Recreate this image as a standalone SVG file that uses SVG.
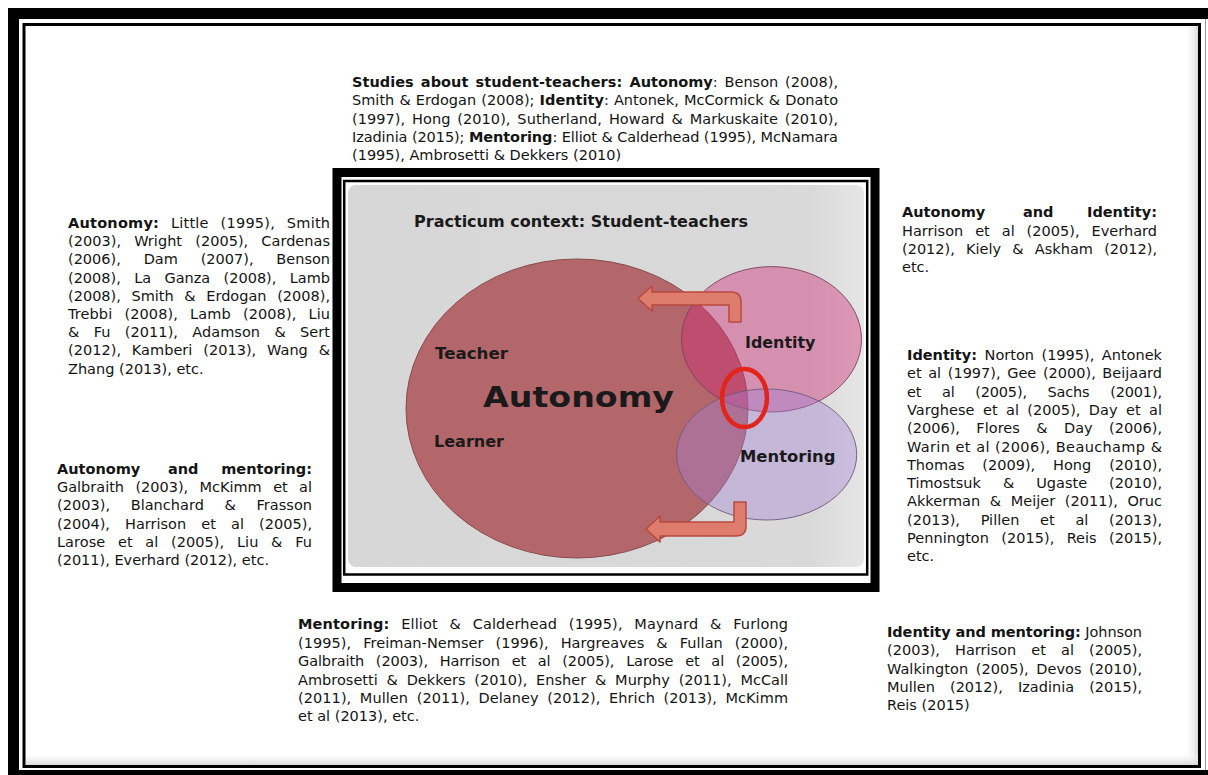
<svg xmlns="http://www.w3.org/2000/svg" width="1208" height="775" viewBox="0 0 1208 775">
<defs>
<style>
.t{font-family:"DejaVu Sans",Verdana,sans-serif;font-size:14.5px;fill:#141414}
.b{font-weight:bold}
.lab{font-family:"DejaVu Sans",Verdana,sans-serif;font-weight:bold;fill:#1a1a1a}
.arrow{fill:#de7d6d;stroke:#b9483f;stroke-width:1.5;stroke-linejoin:round}
</style>
<linearGradient id="shR" x1="0" y1="0" x2="1" y2="0">
<stop offset="0" stop-color="#ffffff" stop-opacity="0"/>
<stop offset="1" stop-color="#d9d9d9"/>
</linearGradient>
<linearGradient id="shB" x1="0" y1="0" x2="0" y2="1">
<stop offset="0" stop-color="#ffffff" stop-opacity="0"/>
<stop offset="1" stop-color="#d9d9d9"/>
</linearGradient>
<linearGradient id="panelG" x1="0" y1="0" x2="1" y2="0">
<stop offset="0" stop-color="#d7d7d7"/>
<stop offset="0.9" stop-color="#d9d9d9"/>
<stop offset="1" stop-color="#e6e6e6"/>
</linearGradient>
</defs>

<g id="frame">
<rect x="0" y="0" width="1208" height="775" fill="#ffffff"/>
<rect x="1184" y="26" width="14" height="739" fill="url(#shR)"/>
<rect x="26" y="752" width="1172" height="13" fill="url(#shB)"/>
<rect x="8" y="8" width="1200" height="11" fill="#000"/>
<rect x="8" y="8" width="11" height="767" fill="#000"/>
<rect x="8" y="770" width="1200" height="5" fill="#000"/>
<line x1="1205.5" y1="19" x2="1205.5" y2="770" stroke="#9a9a9a" stroke-width="1"/>
<rect x="24" y="24.5" width="1175.5" height="742" fill="none" stroke="#000" stroke-width="3"/>
</g>

<g id="central-box">
<rect x="337" y="172.5" width="538" height="415" fill="#ffffff" stroke="#000" stroke-width="9"/>
<rect x="344.2" y="181" width="523" height="393.5" fill="#ffffff" stroke="#000" stroke-width="2.5"/>
<rect x="348" y="185" width="516" height="382" rx="8" fill="url(#panelG)"/>
<text class="lab" x="414" y="226.7" font-size="15.5" textLength="334" lengthAdjust="spacingAndGlyphs" fill="#262626">Practicum context: Student-teachers</text>
</g>

<g id="autonomy">
<ellipse cx="577" cy="408.5" rx="171" ry="149.5" fill="#b3676b" stroke="#874a4d" stroke-width="1"/>
</g>
<g id="identity">
<ellipse cx="771.5" cy="339.3" rx="90" ry="72.7" fill="#d22978" fill-opacity="0.41" stroke="#7d3f5e" stroke-width="0.9"/>
</g>
<g id="mentoring">
<ellipse cx="766.7" cy="454.5" rx="90" ry="65.5" fill="#a280d6" fill-opacity="0.39" stroke="#6f5a7c" stroke-width="0.9"/>
</g>

<g id="connectors">
<path class="arrow" d="M741 322 L741 302 Q741 292 731 292 L652 292 L652 286 L638 298.5 L652 311 L652 305 L729 305 L729 322 Z"/>
<path class="arrow" d="M734 502 L746 502 L746 526 Q746 536 736 536 L660 536 L660 542 L646 529 L660 516 L660 522 L734 522 Z"/>
</g>

<g id="labels">
<text class="lab" x="435" y="359.3" font-size="15" textLength="73" lengthAdjust="spacingAndGlyphs">Teacher</text>
<text class="lab" x="434" y="446.7" font-size="15" textLength="70" lengthAdjust="spacingAndGlyphs">Learner</text>
<text class="lab" x="483" y="406.7" font-size="29" textLength="191" lengthAdjust="spacingAndGlyphs" fill="#111">Autonomy</text>
<text class="lab" x="745" y="348" font-size="15" textLength="70.5" lengthAdjust="spacingAndGlyphs">Identity</text>
<text class="lab" x="740" y="461.7" font-size="15" textLength="95.5" lengthAdjust="spacingAndGlyphs">Mentoring</text>
</g>

<g id="highlight">
<ellipse cx="744.5" cy="398" rx="22.5" ry="29" fill="none" stroke="#e3241b" stroke-width="4.5"/>
</g>

<g id="top-studies">
<text class="t" x="352" y="87" word-spacing="2.1" textLength="486" lengthAdjust="spacing"><tspan class="b">Studies about student-teachers: Autonomy</tspan>: Benson (2008),</text>
<text class="t" x="352" y="105.3" word-spacing="0.5" textLength="486" lengthAdjust="spacing">Smith &amp; Erdogan (2008); <tspan class="b">Identity</tspan>: Antonek, McCormick &amp; Donato</text>
<text class="t" x="352" y="123.6" word-spacing="2.2" textLength="486" lengthAdjust="spacing">(1997), Hong (2010), Sutherland, Howard &amp; Markuskaite (2010),</text>
<text class="t" x="352" y="141.9" textLength="486" lengthAdjust="spacing">Izadinia (2015); <tspan class="b">Mentoring</tspan>: Elliot &amp; Calderhead (1995), McNamara</text>
<text class="t" x="352" y="160.2">(1995), Ambrosetti &amp; Dekkers (2010)</text>
</g>

<g id="left-autonomy">
<text class="t" x="68" y="228" word-spacing="7" textLength="262" lengthAdjust="spacing"><tspan class="b">Autonomy:</tspan> Little (1995), Smith</text>
<text class="t" x="68" y="246.2" word-spacing="8.5" textLength="262" lengthAdjust="spacing">(2003), Wright (2005), Cardenas</text>
<text class="t" x="68" y="264.4" word-spacing="18.3" textLength="262" lengthAdjust="spacing">(2006), Dam (2007), Benson</text>
<text class="t" x="68" y="282.6" word-spacing="8.8" textLength="262" lengthAdjust="spacing">(2008), La Ganza (2008), Lamb</text>
<text class="t" x="68" y="300.8" word-spacing="6" textLength="262" lengthAdjust="spacing">(2008), Smith &amp; Erdogan (2008),</text>
<text class="t" x="68" y="319" word-spacing="7.5" textLength="262" lengthAdjust="spacing">Trebbi (2008), Lamb (2008), Liu</text>
<text class="t" x="68" y="337.2" word-spacing="9.7" textLength="262" lengthAdjust="spacing">&amp; Fu (2011), Adamson &amp; Sert</text>
<text class="t" x="68" y="355.4" word-spacing="6.2" textLength="262" lengthAdjust="spacing">(2012), Kamberi (2013), Wang &amp;</text>
<text class="t" x="68" y="373.6">Zhang (2013), etc.</text>
</g>

<g id="left-autonomy-mentoring">
<text class="t b" x="57" y="474">Autonomy</text>
<text class="t b" x="168" y="474">and</text>
<text class="t b" x="312" y="474" text-anchor="end">mentoring:</text>
<text class="t" x="57" y="492.2" word-spacing="6.8" textLength="255" lengthAdjust="spacing">Galbraith (2003), McKimm et al</text>
<text class="t" x="57" y="510.4" word-spacing="16" textLength="255" lengthAdjust="spacing">(2003), Blanchard &amp; Frasson</text>
<text class="t" x="57" y="528.6" word-spacing="10.5" textLength="255" lengthAdjust="spacing">(2004), Harrison et al (2005),</text>
<text class="t" x="57" y="546.8" word-spacing="8.1" textLength="255" lengthAdjust="spacing">Larose et al (2005), Liu &amp; Fu</text>
<text class="t" x="57" y="565">(2011), Everhard (2012), etc.</text>
</g>

<g id="right-autonomy-identity">
<text class="t b" x="902" y="217.3">Autonomy</text>
<text class="t b" x="1023" y="217.3">and</text>
<text class="t b" x="1157" y="217.3" text-anchor="end">Identity:</text>
<text class="t" x="902" y="235.5" word-spacing="7.3" textLength="255" lengthAdjust="spacing">Harrison et al (2005), Everhard</text>
<text class="t" x="902" y="253.7" word-spacing="6.6" textLength="255" lengthAdjust="spacing">(2012), Kiely &amp; Askham (2012),</text>
<text class="t" x="902" y="271.9">etc.</text>
</g>

<g id="right-identity">
<text class="t" x="907" y="360" word-spacing="2.9" textLength="255" lengthAdjust="spacing"><tspan class="b">Identity:</tspan> Norton (1995), Antonek</text>
<text class="t" x="907" y="378.3" word-spacing="2" textLength="255" lengthAdjust="spacing">et al (1997), Gee (2000), Beijaard</text>
<text class="t" x="907" y="396.6" word-spacing="16.2" textLength="255" lengthAdjust="spacing">et al (2005), Sachs (2001),</text>
<text class="t" x="907" y="414.9" word-spacing="3.7" textLength="255" lengthAdjust="spacing">Varghese et al (2005), Day et al</text>
<text class="t" x="907" y="433.2" word-spacing="11.8" textLength="255" lengthAdjust="spacing">(2006), Flores &amp; Day (2006),</text>
<text class="t" x="907" y="451.5" word-spacing="0.3" textLength="255" lengthAdjust="spacing">Warin et al (2006), Beauchamp &amp;</text>
<text class="t" x="907" y="469.8" word-spacing="13.3" textLength="255" lengthAdjust="spacing">Thomas (2009), Hong (2010),</text>
<text class="t" x="907" y="488.1" word-spacing="17.3" textLength="255" lengthAdjust="spacing">Timostsuk &amp; Ugaste (2010),</text>
<text class="t" x="907" y="506.4" word-spacing="5" textLength="255" lengthAdjust="spacing">Akkerman &amp; Meijer (2011), Oruc</text>
<text class="t" x="907" y="524.7" word-spacing="16.1" textLength="255" lengthAdjust="spacing">(2013), Pillen et al (2013),</text>
<text class="t" x="907" y="543" word-spacing="7.7" textLength="255" lengthAdjust="spacing">Pennington (2015), Reis (2015),</text>
<text class="t" x="907" y="561.3">etc.</text>
</g>

<g id="bottom-mentoring">
<text class="t" x="298" y="629.3" word-spacing="7" textLength="490" lengthAdjust="spacing"><tspan class="b">Mentoring:</tspan> Elliot &amp; Calderhead (1995), Maynard &amp; Furlong</text>
<text class="t" x="298" y="647.7" word-spacing="7.3" textLength="490" lengthAdjust="spacing">(1995), Freiman-Nemser (1996), Hargreaves &amp; Fullan (2000),</text>
<text class="t" x="298" y="666.1" word-spacing="7.3" textLength="490" lengthAdjust="spacing">Galbraith (2003), Harrison et al (2005), Larose et al (2005),</text>
<text class="t" x="298" y="684.5" word-spacing="4.2" textLength="490" lengthAdjust="spacing">Ambrosetti &amp; Dekkers (2010), Ensher &amp; Murphy (2011), McCall</text>
<text class="t" x="298" y="702.9" word-spacing="3.9" textLength="490" lengthAdjust="spacing">(2011), Mullen (2011), Delaney (2012), Ehrich (2013), McKimm</text>
<text class="t" x="298" y="721.3">et al (2013), etc.</text>
</g>

<g id="bottom-identity-mentoring">
<text class="t" x="887" y="637" textLength="255" lengthAdjust="spacing"><tspan class="b">Identity and mentoring:</tspan> Johnson</text>
<text class="t" x="887" y="655.3" word-spacing="10.5" textLength="255" lengthAdjust="spacing">(2003), Harrison et al (2005),</text>
<text class="t" x="887" y="673.6" word-spacing="2.9" textLength="255" lengthAdjust="spacing">Walkington (2005), Devos (2010),</text>
<text class="t" x="887" y="691.9" word-spacing="10.5" textLength="255" lengthAdjust="spacing">Mullen (2012), Izadinia (2015),</text>
<text class="t" x="887" y="710.2">Reis (2015)</text>
</g>
</svg>
